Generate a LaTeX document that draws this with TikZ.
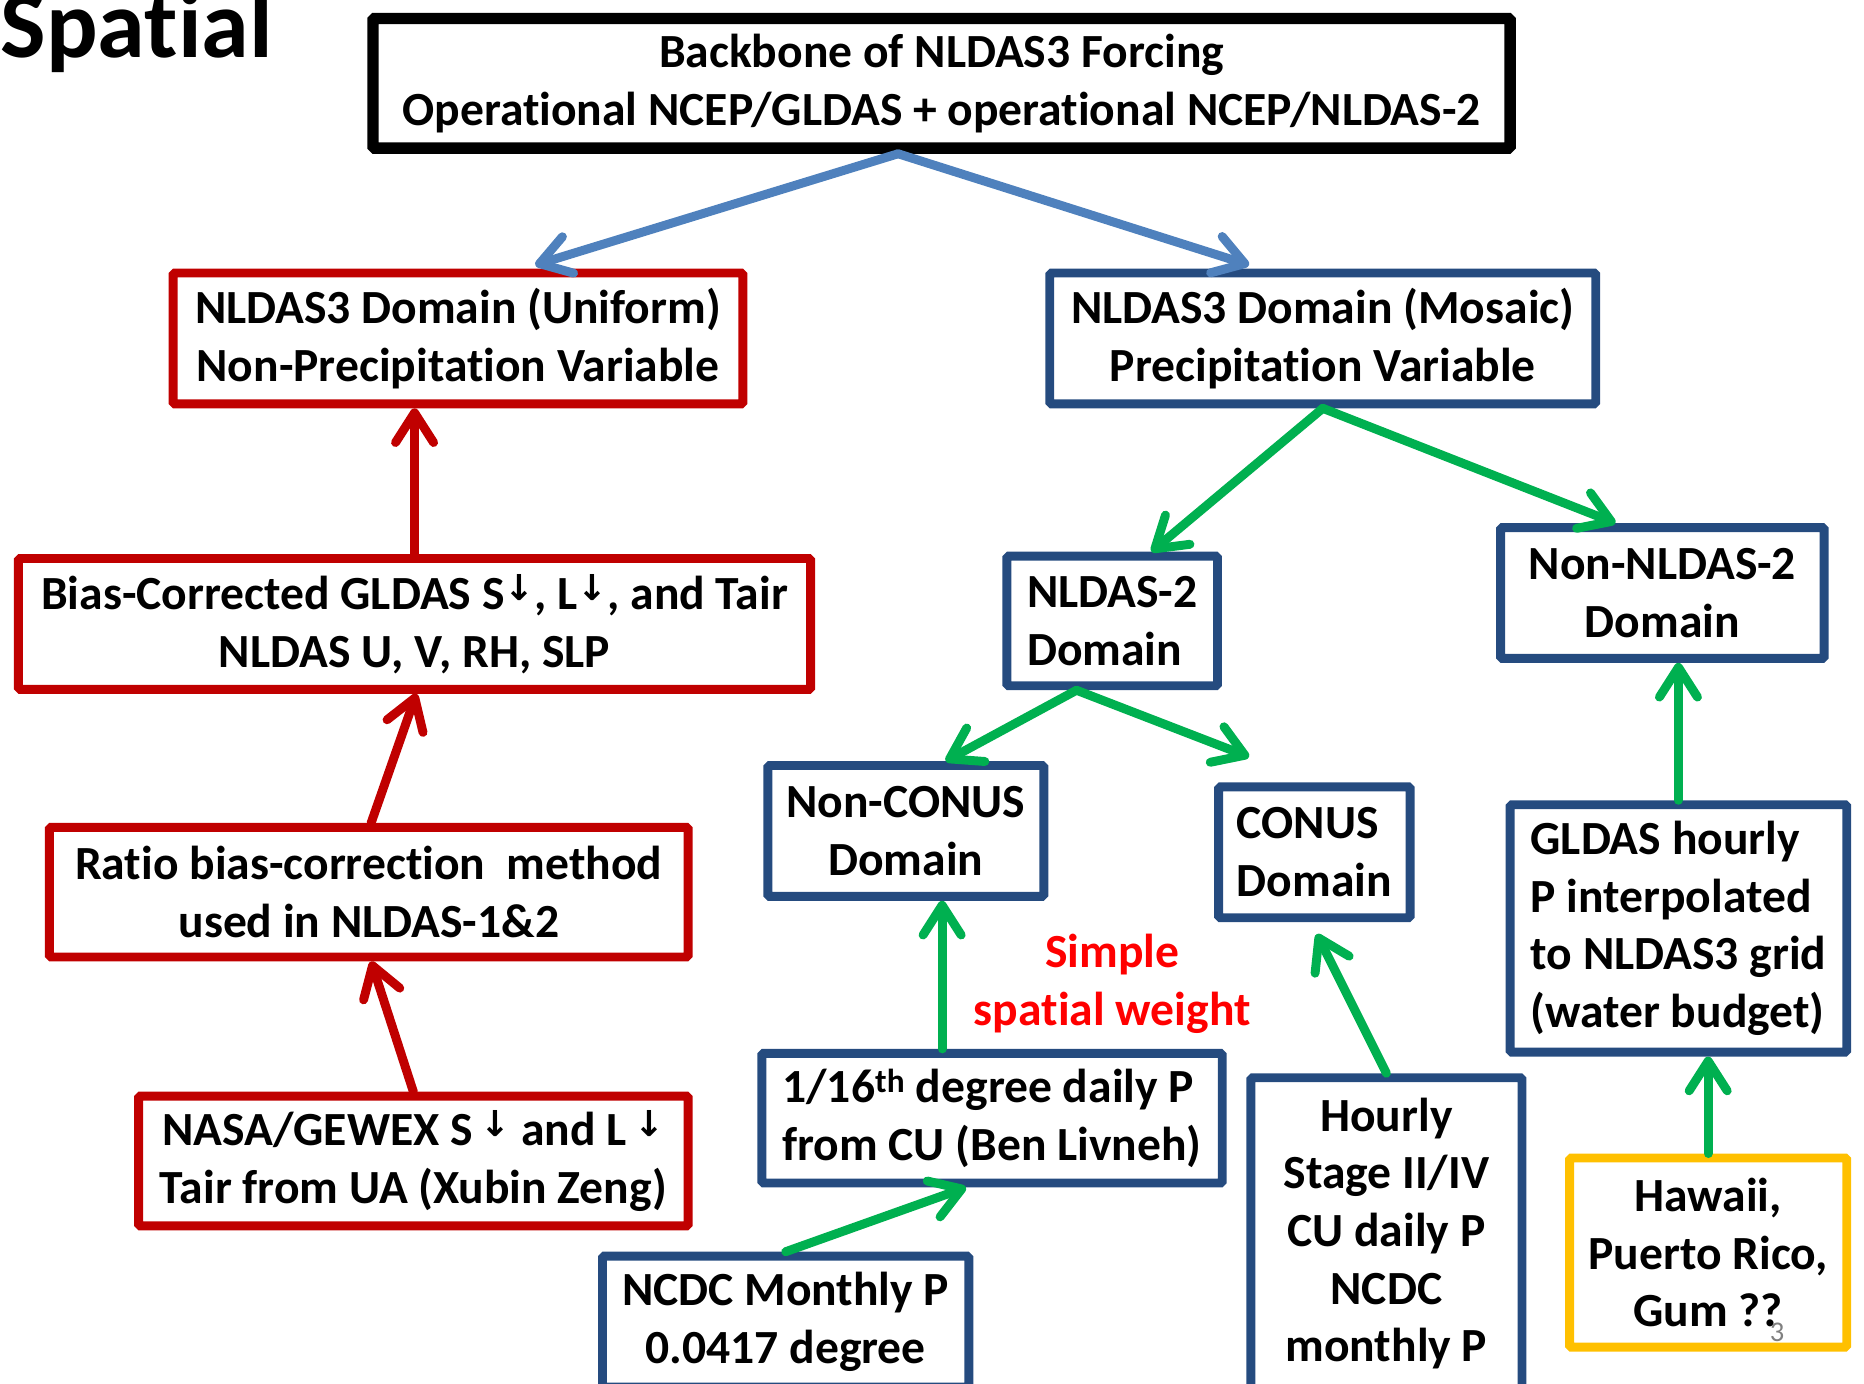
\documentclass[tikz,border=0pt]{standalone}
\usepackage{fontspec}
\setmainfont{Carlito}[Ligatures=NoCommon]
\newfontfamily\arrfont{DejaVu Sans}
\usetikzlibrary{arrows.meta,calc}
\definecolor{cred}{HTML}{C00000}
\definecolor{cblue}{HTML}{254B7F}
\definecolor{cgreen}{HTML}{00B050}
\definecolor{carrblue}{HTML}{4F81BD}
\definecolor{cyel}{HTML}{FFC000}
\newcommand{\dnarr}{\raisebox{8pt}{\fontsize{30}{30}\selectfont\arrfont ↓}}
\tikzset{
  box/.style={draw, line width=7.5pt, rounded corners=1.5pt, inner sep=0pt,
    font=\fontsize{40}{48.5}\selectfont\bfseries, align=center},
  redbox/.style={box, draw=cred},
  bluebox/.style={box, draw=cblue},
  yelbox/.style={box, draw=cyel},
  blackbox/.style={box, draw=black, line width=9.5pt},
  conn/.style={line width=7.5pt, line cap=round,
    -{Straight Barb[length=25pt,width=32pt,line cap=round,line join=round]}},
  bluearr/.style={conn, draw=carrblue},
  redarr/.style={conn, draw=cred},
  greenarr/.style={conn, draw=cgreen}
}
\begin{document}
\begin{tikzpicture}[x=1pt,y=-1pt]
\useasboundingbox (0,0) rectangle (1567,1163);

\node[anchor=base west, font=\fontsize{81}{81}\selectfont\bfseries] (title) at (-3,48) {Spatial};

\node[blackbox, minimum width=956, minimum height=109] (top) at (791.5,70)
  {Backbone of NLDAS3 Forcing\\Operational NCEP/GLDAS + operational NCEP/NLDAS-2};

\node[redbox, minimum width=479, minimum height=110] (uni) at (385,284.5)
  {NLDAS3 Domain (Uniform)\\Non-Precipitation Variable};
\node[bluebox, minimum width=459, minimum height=110] (mos) at (1112,284.5)
  {NLDAS3 Domain (Mosaic)\\Precipitation Variable};

\node[redbox, minimum width=666, minimum height=110] (bias) at (348.5,524.5)
  {Bias-Corrected GLDAS S\dnarr, L\dnarr, and Tair\\NLDAS U, V, RH, SLP};
\node[redbox, minimum width=537, minimum height=109] (ratio) at (310,750)
  {Ratio bias-correction~ method\\used in NLDAS-1\&2};
\node[redbox, minimum width=462, minimum height=109] (nasa) at (347.5,976)
  {NASA/GEWEX S\,\dnarr{} and L\,\dnarr\\Tair from UA (Xubin Zeng)};

\node[bluebox, align=left, minimum width=177, minimum height=109] (nl2) at (935,522)
  {NLDAS-2\\Domain};
\node[bluebox, minimum width=272, minimum height=110] (nonnl2) at (1397.5,498.5)
  {Non-NLDAS-2\\Domain};
\node[bluebox, minimum width=232, minimum height=110] (noncon) at (761.5,698.5)
  {Non-CONUS\\Domain};
\node[bluebox, align=left, minimum width=161, minimum height=110] (conus) at (1105,716.5)
  {CONUS\\Domain};
\node[bluebox, align=left, minimum width=283, minimum height=208] (glh) at (1411,780.5)
  {GLDAS hourly\\P interpolated\\to NLDAS3 grid\\(water budget)};
\node[bluebox, align=left, minimum width=387, minimum height=109] (cu) at (834,940)
  {1/16\textsuperscript{th} degree daily P\\from CU (Ben Livneh)};
\node[bluebox, minimum width=228, minimum height=262] (hourly) at (1165.5,1037)
  {Hourly\\Stage II/IV\\CU daily P\\NCDC\\monthly P};
\node[yelbox, minimum width=233, minimum height=159] (haw) at (1436,1053)
  {Hawaii,\\Puerto Rico,\\Gum ??};
\node[bluebox, minimum width=308, minimum height=110] (ncdc) at (660.5,1111)
  {NCDC Monthly P\\0.0417 degree};

\node[align=center, text=red, font=\fontsize{40}{48.5}\selectfont\bfseries] (sw) at (935,827)
  {Simple\\spatial weight};
\node[text=gray, font=\fontsize{24}{24}\selectfont] (pg) at (1494,1120) {3};

% connectors
\draw[bluearr] ([xshift=-36.5pt]top.south) -- ([xshift=65pt,yshift=3pt]uni.north);
\draw[bluearr] ([xshift=-36.5pt]top.south) -- ([xshift=-62pt,yshift=3pt]mos.north);

\draw[redarr] (bias.north) -- (bias.north |- uni.south);
\draw[redarr] ([xshift=2pt]ratio.north) -- ([xshift=1.5pt]bias.south);
\draw[redarr] (nasa.north) -- ([xshift=2pt]ratio.south);

\draw[greenarr] (mos.south) -- ([xshift=33pt]nl2.north);
\draw[greenarr] (mos.south) -- ([xshift=-39.5pt]nonnl2.north);
\draw[greenarr] ([xshift=-30pt]nl2.south) -- ([xshift=33.5pt]noncon.north);
\coordinate (conustip) at ([xshift=-55pt,yshift=21.5pt]conus.north);
\draw[greenarr] ([xshift=-30pt]nl2.south) -- (conustip);
\draw[greenarr] (glh.north) -- (glh.north |- nonnl2.south);
\draw[greenarr] ([xshift=-42pt]cu.north) -- ([xshift=-42pt]cu.north |- noncon.south);
\draw[greenarr] (hourly.north) -- ([xshift=2pt,yshift=-10pt]conus.south);
\draw[greenarr] (haw.north) -- (haw.north |- glh.south);
\draw[greenarr] (ncdc.north) -- ([xshift=-22pt]cu.south);
\end{tikzpicture}
\end{document}
